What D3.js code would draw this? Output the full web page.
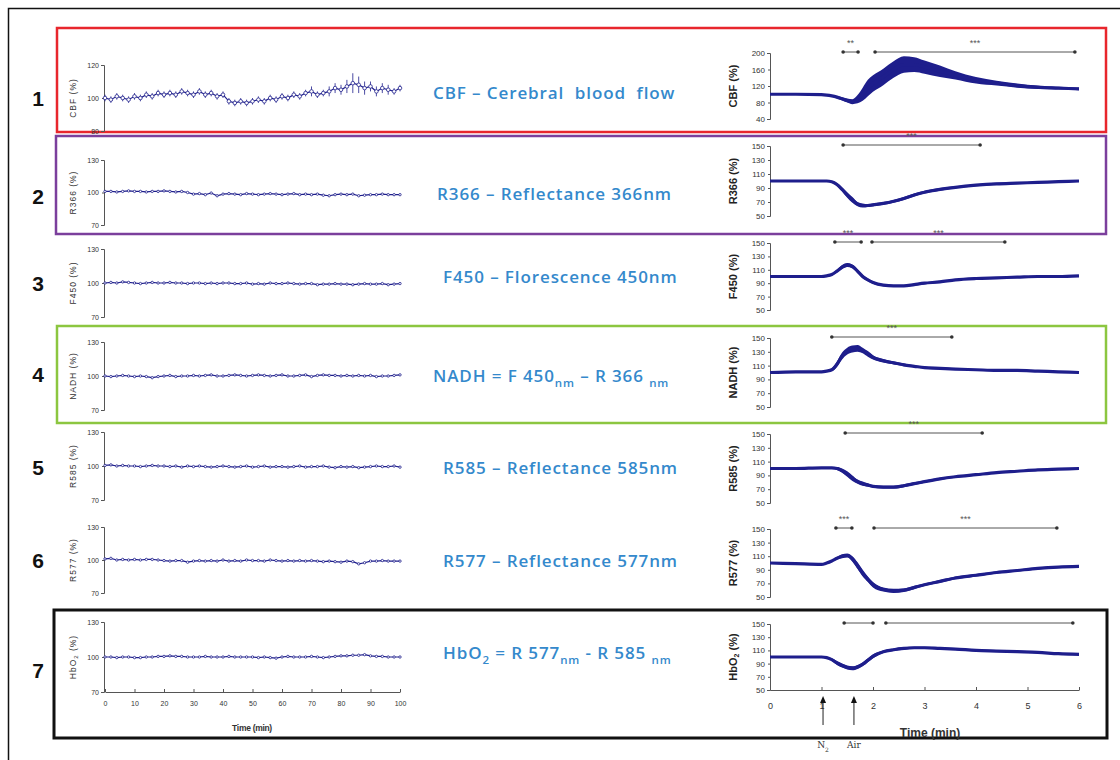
<!DOCTYPE html>
<html>
<head>
<meta charset="utf-8">
<script src="https://cdn.jsdelivr.net/npm/d3@7"></script>
<style>
  body { margin: 0; background: #fff; }
  svg { display: block; font-family: Arial, "Liberation Sans", sans-serif; }
</style>
</head>
<body>
<svg id="chart" width="1120" height="760"></svg>
<script>
// ---- left column: 100 min recordings, one sample every 2 min ----
let leftTime = [
  0, 2, 4, 6, 8, 10, 12, 14, 16, 18,
  20, 22, 24, 26, 28, 30, 32, 34, 36, 38,
  40, 42, 44, 46, 48, 50, 52, 54, 56, 58,
  60, 62, 64, 66, 68, 70, 72, 74, 76, 78,
  80, 82, 84, 86, 88, 90, 92, 94, 96, 98,
  100
];
let cbfLeft = [
  100, 99, 101, 100, 99, 101, 100, 102, 101, 103,
  102, 103, 102, 104, 103, 102, 104, 102, 103, 101,
  102, 98, 97, 98, 97, 98, 99, 98, 100, 99,
  101, 100, 102, 101, 103, 104, 102, 103, 104, 106,
  105, 107, 109, 108, 106, 107, 104, 106, 105, 104,
  106
];
let cbfLeftErr = [
  2, 2, 2, 2, 2, 2, 2, 2, 2, 2,
  2, 2, 2, 2, 2, 2, 2, 2, 2, 2,
  2, 2, 2, 2, 2, 2, 2, 2, 2, 2,
  2, 2, 2, 2, 2, 3, 2, 2, 3, 3,
  3, 4, 6, 5, 4, 3, 3, 3, 3, 2,
  2
];
let r366Left = [
  101, 101, 100.5, 101, 101.5, 101, 101, 100.5, 101, 101,
  101.5, 101, 100.5, 101, 100, 98.5, 99, 98, 99.5, 97,
  98.5, 99, 98.5, 98, 99, 98.5, 98, 98.5, 99, 98.5,
  98, 98.5, 99, 98, 98.5, 98, 98.5, 97.5, 97, 98,
  98.5, 98, 98.5, 97, 97.5, 98, 98, 98.5, 98, 98,
  98
];
let f450Left = [
  100, 100.5, 100, 101, 100.5, 100, 99.5, 100, 100.5, 100,
  100, 100.5, 100, 100, 99.5, 100, 100, 99.5, 100, 99.5,
  100, 100, 99.5, 99.5, 100, 99, 99.5, 99, 100, 99.5,
  99.5, 100, 99.5, 99, 99.5, 99.5, 98.5, 99, 99, 99.5,
  99, 99, 98.5, 99, 99.5, 99, 99, 99.5, 98.5, 99,
  99.5
];
let nadhLeft = [
  100, 99.5, 100, 100.5, 100, 99.5, 100, 99.5, 98.5, 99.5,
  100, 100.5, 99.5, 100, 100, 100.5, 100, 100.5, 101, 100,
  100, 100.5, 101, 100.5, 100, 100.5, 101, 100.5, 100, 100.5,
  101, 100, 100, 100.5, 101, 99.5, 100.5, 101, 100.5, 100.5,
  100, 100.5, 100, 100.5, 100, 100.5, 99.5, 100, 100, 100.5,
  101
];
let r585Left = [
  100.5, 101, 100, 100.5, 100, 100, 99.5, 100, 100.5, 100,
  100, 99.5, 100, 99, 100, 99.5, 100, 99.5, 99, 99.5,
  100, 99.5, 99, 99.5, 100, 99, 99.5, 100, 99, 99.5,
  99.5, 99, 99.5, 100, 99, 99.5, 99.5, 100, 99, 98.5,
  99.5, 99, 99.5, 98.5, 99, 99.5, 100, 99.5, 99.5, 100,
  99
];
let r577Left = [
  101, 101.5, 100, 100.5, 100, 100.5, 100, 100.5, 100.5, 100,
  99.5, 99, 99.5, 99.5, 98, 99, 99.5, 99, 99.5, 99,
  100, 99, 99.5, 99, 100, 99.5, 99.5, 99, 100, 99.5,
  99, 99.5, 99, 99.5, 99, 99.5, 99, 98.5, 99, 98.5,
  98, 99, 98.5, 96.5, 97.5, 99, 99, 99.5, 99, 99,
  99
];
let hbo2Left = [
  100, 100, 99.5, 100, 100, 99.5, 99.5, 100, 100, 100.5,
  100.5, 101, 100.5, 100.5, 100, 100, 100, 100.5, 100, 100,
  100, 100.5, 100, 100, 100, 100, 99.5, 100, 99.5, 99,
  100, 100.5, 100, 100, 100, 100.5, 100, 99.5, 100, 100.5,
  101, 101, 101.5, 101.5, 102, 101, 100.5, 100.5, 100, 100,
  100
];

// ---- right column: 6 min hypoxia episode (mean +/- error) ----
let rightTime = [0, 0.5, 1.0, 1.1, 1.2, 1.3, 1.4, 1.5, 1.6, 1.7, 1.8, 1.9, 2.0,
                 2.2, 2.4, 2.6, 2.8, 3.0, 3.3, 3.6, 4.0, 4.4, 4.8, 5.2, 5.6, 6.0];
let cbfRight    = [100, 100, 99, 98, 96, 93, 89, 85, 82, 88, 100, 115, 126,
                   142, 160, 172, 172, 166, 156, 146, 134, 127, 121, 117, 115, 113];
let cbfRightErr = [1, 1, 1, 2, 2, 3, 4, 5, 6, 10, 16, 20, 20,
                   20, 20, 20, 18, 16, 14, 10, 8, 6, 5, 4, 3, 3];
let r366Right    = [100, 100, 100, 100, 99, 95, 88, 80, 73, 67, 65, 65, 66,
                    68, 71, 75, 80, 84, 88, 91, 94, 96, 97, 98, 99, 100];
let r366RightErr = [1, 1, 1, 1, 1, 2, 3, 4, 4, 3, 3, 2, 2,
                    2, 2, 2, 2, 2, 2, 1.5, 1.5, 1.5, 1, 1, 1, 1];
let f450Right    = [100, 100, 100, 101, 103, 108, 114, 117, 115, 108, 100, 95, 91,
                    87, 86, 86, 88, 90, 92, 95, 97, 98, 99, 100, 100, 101];
let f450RightErr = [1, 1, 1, 1, 1.5, 2, 3, 3, 3, 3, 2.5, 2, 2,
                    1.5, 1.5, 1.5, 1.5, 1.5, 1.5, 1, 1, 1, 1, 1, 1, 1];
let nadhRight    = [100, 101, 101, 102, 104, 112, 124, 131, 134, 135, 132, 127, 122,
                    117, 114, 111, 109, 107, 106, 105, 104, 103, 103, 102, 101, 100];
let nadhRightErr = [1, 1, 1, 1, 2, 4, 5, 5, 5, 5, 4, 4, 3,
                    2.5, 2, 2, 1.5, 1.5, 1.5, 1, 1, 1, 1, 1, 1, 1];
let r585Right    = [100, 100, 101, 101, 101, 100, 97, 92, 86, 81, 78, 76, 74,
                    73, 73, 75, 78, 81, 85, 88, 91, 94, 96, 98, 99, 100];
let r585RightErr = [1, 1, 1, 1, 1, 2, 3, 4, 4, 3, 3, 2.5, 2,
                    2, 2, 2, 2, 1.5, 1.5, 1.5, 1.5, 1, 1, 1, 1, 1];
let r577Right    = [100, 99, 98, 100, 103, 107, 110, 111, 106, 96, 85, 76, 68,
                    61, 59, 60, 64, 68, 73, 78, 82, 86, 89, 92, 94, 95];
let r577RightErr = [1, 1, 1, 1, 1.5, 2, 3, 3, 4, 5, 5, 4, 4,
                    3, 3, 2.5, 2.5, 2, 2, 2, 2, 1.5, 1.5, 1.5, 1.5, 1.5];
let hbo2Right    = [100, 100, 100, 99, 96, 91, 87, 84, 83, 85, 89, 95, 101,
                    108, 111, 113, 114, 114, 113, 112, 110, 109, 108, 107, 105, 104];
let hbo2RightErr = [0.5, 0.5, 1, 1, 2, 3, 3, 3, 3, 3, 3, 3, 3,
                    2, 2, 2, 1.5, 1.5, 1.5, 1.5, 1.5, 1.5, 1.5, 1.5, 1.5, 1.5];

// ---- ticks and labels ----
let leftTicksCBF = [80, 100, 120];
let leftTicks = [70, 100, 130];
let rightTicksCBF = [40, 80, 120, 160, 200];
let rightTicks = [50, 70, 90, 110, 130, 150];
let leftTimeTicks = [0, 10, 20, 30, 40, 50, 60, 70, 80, 90, 100];
let rightTimeTicks = [0, 1, 2, 3, 4, 5, 6];
let rowNumbers = ["1", "2", "3", "4", "5", "6", "7"];
let yLabels = [
  [["CBF (%)", 0]], [["R366 (%)", 0]], [["F450 (%)", 0]], [["NADH (%)", 0]],
  [["R585 (%)", 0]], [["R577 (%)", 0]], [["HbO", 0], ["2", 1], [" (%)", 0]]
];
let titles = [
  [["CBF \u2013 Cerebral  blood  flow", 0]],
  [["R366 \u2013 Reflectance 366nm", 0]],
  [["F450 \u2013 Florescence 450nm", 0]],
  [["NADH = F 450", 0], ["nm", 1], [" \u2013 R 366 ", 0], ["nm", 1]],
  [["R585 \u2013 Reflectance 585nm", 0]],
  [["R577 \u2013 Reflectance 577nm", 0]],
  [["HbO", 0], ["2", 1], [" = R 577", 0], ["nm", 1], [" - R 585 ", 0], ["nm", 1]]
];
let sigBars = [
  [{ from: 1.42, to: 1.71, stars: "**" }, { from: 2.04, to: 5.92, stars: "***" }],
  [{ from: 1.42, to: 4.08, stars: "***" }],
  [{ from: 1.26, to: 1.77, stars: "***" }, { from: 1.98, to: 4.56, stars: "***" }],
  [{ from: 1.20, to: 3.53, stars: "***" }],
  [{ from: 1.46, to: 4.12, stars: "***" }],
  [{ from: 1.28, to: 1.59, stars: "***" }, { from: 2.02, to: 5.57, stars: "***" }],
  [{ from: 1.44, to: 2.00, stars: "" }, { from: 2.25, to: 5.88, stars: "" }]
];
let eventTimes = [1.03, 1.63];
let eventLabels = [[["N", 0], ["2", 1]], [["Air", 0]]];

let panels = [
  { left: cbfLeft, leftErr: cbfLeftErr, lTicks: leftTicksCBF, right: cbfRight, rightErr: cbfRightErr, rTicks: rightTicksCBF },
  { left: r366Left, leftErr: null, lTicks: leftTicks, right: r366Right, rightErr: r366RightErr, rTicks: rightTicks },
  { left: f450Left, leftErr: null, lTicks: leftTicks, right: f450Right, rightErr: f450RightErr, rTicks: rightTicks },
  { left: nadhLeft, leftErr: null, lTicks: leftTicks, right: nadhRight, rightErr: nadhRightErr, rTicks: rightTicks },
  { left: r585Left, leftErr: null, lTicks: leftTicks, right: r585Right, rightErr: r585RightErr, rTicks: rightTicks },
  { left: r577Left, leftErr: null, lTicks: leftTicks, right: r577Right, rightErr: r577RightErr, rTicks: rightTicks },
  { left: hbo2Left, leftErr: null, lTicks: leftTicks, right: hbo2Right, rightErr: hbo2RightErr, rTicks: rightTicks }
];

// pixel layout of each row
let layout = [
  { lTop: 65, lBot: 131, rTop: 53, rBot: 119, titleX: 433, titleY: 92, numY: 98,
    box: { x0: 57, x1: 1106, y0: 28, y1: 132, color: "#e8262c", w: 2.5 } },
  { lTop: 160, lBot: 225, rTop: 146, rBot: 216, titleX: 437, titleY: 193, numY: 196,
    box: { x0: 56, x1: 1106, y0: 136, y1: 234, color: "#7b3f9c", w: 2.5 } },
  { lTop: 249, lBot: 317, rTop: 243, rBot: 310, titleX: 443, titleY: 276, numY: 283, box: null },
  { lTop: 342, lBot: 410, rTop: 338, rBot: 407, titleX: 433, titleY: 375, numY: 374,
    box: { x0: 57, x1: 1106, y0: 326, y1: 423, color: "#8cc640", w: 2.5 } },
  { lTop: 432, lBot: 500, rTop: 434, rBot: 503, titleX: 443, titleY: 467, numY: 467, box: null },
  { lTop: 527, lBot: 593, rTop: 529, rBot: 597, titleX: 443, titleY: 560, numY: 560, box: null },
  { lTop: 622, lBot: 692, rTop: 624, rBot: 690, titleX: 443, titleY: 652, numY: 670,
    box: { x0: 54, x1: 1107, y0: 610, y1: 738, color: "#111", w: 3 } }
];

let svg = d3.select("#chart");
let navy = "#1e1e8c";
let titleBlue = "#3489cc";

let xLeft = d3.scaleLinear().domain([0, 100]).range([105, 400]);
let xRight = d3.scaleLinear().domain([0, 6]).range([770, 1079]);

// writes text pieces, second flag = subscript
let addPieces = (sel, pieces, subSize) => {
  pieces.forEach((p) => {
    let t = sel.append("tspan").text(p[0]);
    if (p[1]) t.attr("baseline-shift", "sub").attr("font-size", subSize);
  });
};

// outer frame (only top and left edges visible)
svg.append("path").attr("d", "M8.5,760 V8.5 H1120")
  .attr("fill", "none").attr("stroke", "#111").attr("stroke-width", 1.5);

let styleAxis = (g, size) => {
  g.selectAll("path").attr("stroke", "#555");
  g.selectAll("line").attr("stroke", "#555");
  g.selectAll("text").attr("font-size", size).attr("fill", "#333")
    .attr("font-family", "Arial, 'Liberation Sans', sans-serif");
};

panels.forEach((p, i) => {
  let L = layout[i];

  // coloured frame
  if (L.box) {
    svg.append("rect")
      .attr("x", L.box.x0).attr("y", L.box.y0)
      .attr("width", L.box.x1 - L.box.x0).attr("height", L.box.y1 - L.box.y0)
      .attr("fill", "none").attr("stroke", L.box.color).attr("stroke-width", L.box.w);
  }

  // row number
  svg.append("text").attr("x", 38).attr("y", L.numY)
    .attr("text-anchor", "middle").attr("dominant-baseline", "central")
    .attr("font-size", 21).attr("font-weight", "bold").attr("fill", "#111")
    .text(rowNumbers[i]);

  // ---------- left panel ----------
  let lExt = d3.extent(p.lTicks);
  let yL = d3.scaleLinear().domain(lExt).range([L.lBot, L.lTop]);
  let gy = svg.append("g").attr("transform", "translate(" + 104 + ",0)")
    .call(d3.axisLeft(yL).tickValues(p.lTicks).tickSizeInner(2).tickSizeOuter(3).tickPadding(3));
  styleAxis(gy, 7);

  let lyLabel = svg.append("text")
    .attr("transform", "translate(73," + ((L.lTop + L.lBot) / 2) + ") rotate(-90)")
    .attr("text-anchor", "middle").attr("dominant-baseline", "central")
    .attr("font-size", 8.5).attr("letter-spacing", 1).attr("fill", "#333");
  addPieces(lyLabel, yLabels[i], 6);

  let lineL = d3.line().x((d, k) => xLeft(leftTime[k])).y((d) => yL(d));
  svg.append("path").datum(p.left).attr("d", lineL)
    .attr("fill", "none").attr("stroke", navy).attr("stroke-width", 1.2);

  if (p.leftErr) {
    svg.append("g").selectAll("line").data(p.left).enter().append("line")
      .attr("x1", (d, k) => xLeft(leftTime[k])).attr("x2", (d, k) => xLeft(leftTime[k]))
      .attr("y1", (d, k) => yL(d - p.leftErr[k])).attr("y2", (d, k) => yL(d + p.leftErr[k]))
      .attr("stroke", navy).attr("stroke-width", 0.8);
  }
  svg.append("g").selectAll("circle").data(p.left).enter().append("circle")
    .attr("cx", (d, k) => xLeft(leftTime[k])).attr("cy", (d) => yL(d))
    .attr("r", p.leftErr ? 1.8 : 1.2)
    .attr("fill", "#fff").attr("stroke", navy).attr("stroke-width", 0.8);

  // ---------- centre title ----------
  let tt = svg.append("text").attr("x", L.titleX).attr("y", L.titleY)
    .attr("dominant-baseline", "central")
    .attr("font-family", "'Open Sans', sans-serif").attr("font-weight", 600)
    .attr("font-size", 17).attr("letter-spacing", 0.9)
    .attr("fill", titleBlue).attr("xml:space", "preserve");
  addPieces(tt, titles[i], 11.5);

  // ---------- right panel ----------
  let yR = d3.scaleLinear().domain(d3.extent(p.rTicks)).range([L.rBot, L.rTop]);
  let gr = svg.append("g").attr("transform", "translate(770,0)")
    .call(d3.axisLeft(yR).tickValues(p.rTicks).tickSizeInner(2).tickSizeOuter(3).tickPadding(3));
  styleAxis(gr, 8);

  let ryLabel = svg.append("text")
    .attr("transform", "translate(733," + ((L.rTop + L.rBot) / 2) + ") rotate(-90)")
    .attr("text-anchor", "middle").attr("dominant-baseline", "central")
    .attr("font-size", 11).attr("font-weight", "bold").attr("fill", "#222");
  addPieces(ryLabel, yLabels[i], 7);

  let band = d3.area().curve(d3.curveMonotoneX)
    .x((d, k) => xRight(rightTime[k]))
    .y0((d, k) => yR(d - p.rightErr[k]))
    .y1((d, k) => yR(d + p.rightErr[k]));
  svg.append("path").datum(p.right).attr("d", band).attr("fill", navy);

  let lineR = d3.line().curve(d3.curveMonotoneX)
    .x((d, k) => xRight(rightTime[k])).y((d) => yR(d));
  svg.append("path").datum(p.right).attr("d", lineR)
    .attr("fill", "none").attr("stroke", navy).attr("stroke-width", 3.2);

  // significance bars
  let barY = L.rTop - 1;
  sigBars[i].forEach((s) => {
    let g = svg.append("g");
    g.append("line").attr("x1", xRight(s.from)).attr("x2", xRight(s.to))
      .attr("y1", barY).attr("y2", barY).attr("stroke", "#555").attr("stroke-width", 1);
    [s.from, s.to].forEach((t) => {
      g.append("circle").attr("cx", xRight(t)).attr("cy", barY).attr("r", 1.8).attr("fill", "#333");
    });
    if (s.stars) {
      g.append("text").attr("x", xRight((s.from + s.to) / 2)).attr("y", barY - 6)
        .attr("text-anchor", "middle").attr("font-size", 9).attr("fill", "#555").text(s.stars);
    }
  });

  // x axes only on the last row
  if (i === panels.length - 1) {
    let gxl = svg.append("g").attr("transform", "translate(0," + L.lBot + ")")
      .call(d3.axisBottom(xLeft).tickValues(leftTimeTicks).tickFormat(d3.format("d"))
        .tickSizeInner(-3).tickSizeOuter(0).tickPadding(9));
    styleAxis(gxl, 7);
    svg.append("text").attr("x", 252).attr("y", 731).attr("text-anchor", "middle")
      .attr("font-size", 8.5).attr("font-weight", "bold").attr("fill", "#333")
      .attr("letter-spacing", -0.3).text("Time (min)");

    let gxr = svg.append("g").attr("transform", "translate(0," + L.rBot + ")")
      .call(d3.axisBottom(xRight).tickValues(rightTimeTicks).tickFormat(d3.format("d"))
        .tickSizeInner(-3).tickSizeOuter(0).tickPadding(13));
    styleAxis(gxr, 9);
    svg.append("text").attr("x", 930).attr("y", 737).attr("text-anchor", "middle")
      .attr("font-size", 12).attr("font-weight", "bold").attr("fill", "#333").text("Time (min)");

    // N2 / Air arrows
    eventTimes.forEach((t, k) => {
      let x = xRight(t);
      svg.append("line").attr("x1", x).attr("x2", x).attr("y1", 725).attr("y2", 700)
        .attr("stroke", "#222").attr("stroke-width", 1);
      svg.append("path").attr("d", "M" + (x - 3) + ",703 L" + x + ",696 L" + (x + 3) + ",703 Z")
        .attr("fill", "#111");
      let lab = svg.append("text").attr("x", x).attr("y", 748).attr("text-anchor", "middle")
        .attr("font-family", "'DejaVu Serif', serif").attr("font-size", 9).attr("fill", "#333");
      addPieces(lab, eventLabels[k], 6);
    });
  }
});
</script>
</body>
</html>
